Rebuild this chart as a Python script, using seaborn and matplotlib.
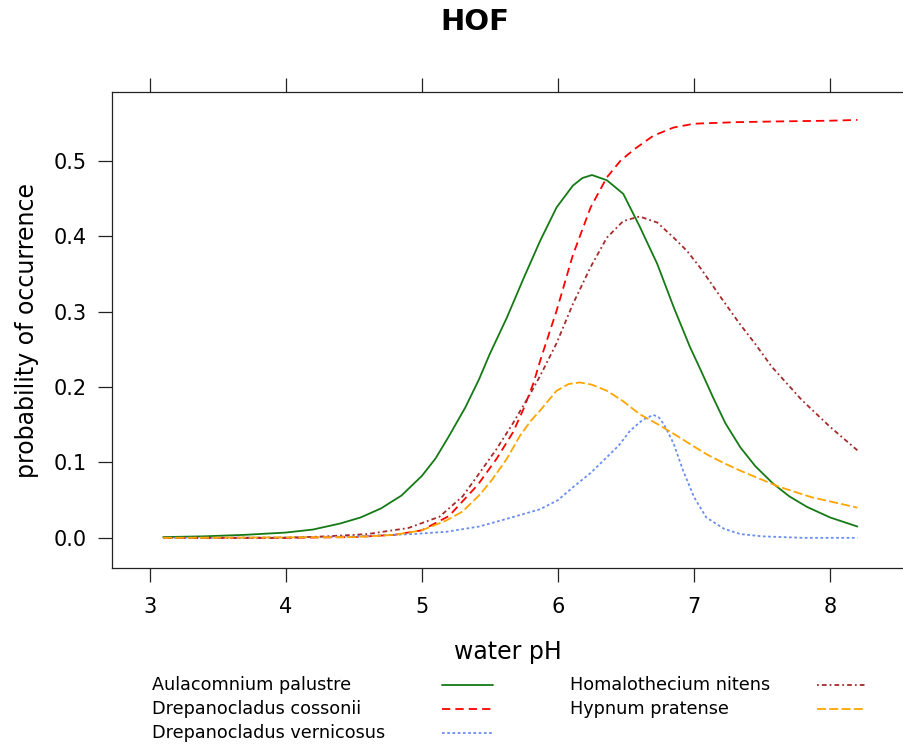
import pandas as pd
import seaborn as sns
import matplotlib.pyplot as plt
from matplotlib.lines import Line2D

# values
species = ["Aulacomnium palustre", "Drepanocladus cossonii", "Drepanocladus vernicosus",
           "Homalothecium nitens", "Hypnum pratense"]

aula_x = [3.1, 3.4, 3.7, 4.0, 4.2, 4.4, 4.55, 4.7, 4.85, 5.0, 5.1, 5.2, 5.32, 5.42, 5.5,
          5.625, 5.75, 5.87, 5.99, 6.11, 6.18, 6.25, 6.36, 6.48, 6.6, 6.73, 6.85, 6.97, 7.05,
          7.14, 7.23, 7.34, 7.45, 7.58, 7.7, 7.83, 8.0, 8.2]
aula_y = [0.001, 0.002, 0.004, 0.007, 0.011, 0.019, 0.027, 0.039, 0.056, 0.082, 0.105, 0.135,
          0.173, 0.210, 0.244, 0.292, 0.345, 0.394, 0.438, 0.467, 0.477, 0.481, 0.474, 0.456,
          0.413, 0.363, 0.306, 0.253, 0.222, 0.186, 0.152, 0.120, 0.095, 0.072, 0.055, 0.041,
          0.027, 0.015]

coss_x = [3.1, 4.0, 4.5, 4.8, 5.0, 5.2, 5.41, 5.55, 5.67, 5.75, 5.82, 5.87, 5.99, 6.11, 6.24,
          6.36, 6.46, 6.56, 6.7, 6.85, 7.0, 7.3, 7.6, 8.0, 8.2]
coss_y = [0.0, 0.0, 0.001, 0.004, 0.010, 0.029, 0.070, 0.105, 0.140, 0.172, 0.205, 0.235,
          0.301, 0.375, 0.438, 0.478, 0.500, 0.515, 0.533, 0.544, 0.549, 0.551, 0.552, 0.553,
          0.554]

vern_x = [3.1, 4.0, 4.5, 4.93, 5.18, 5.42, 5.66, 5.87, 6.0, 6.11, 6.24, 6.36, 6.45, 6.53,
          6.62, 6.7, 6.74, 6.78, 6.85, 6.92, 7.0, 7.09, 7.22, 7.34, 7.5, 7.8, 8.2]
vern_y = [0.0, 0.0005, 0.002, 0.005, 0.008, 0.015, 0.027, 0.038, 0.050, 0.067, 0.086, 0.107,
          0.123, 0.142, 0.156, 0.163, 0.160, 0.150, 0.125, 0.089, 0.054, 0.027, 0.012, 0.005,
          0.002, 0.0, 0.0]

homa_x = [3.1, 4.0, 4.3, 4.6, 4.9, 5.13, 5.3, 5.42, 5.55, 5.67, 5.8, 5.87, 5.99, 6.11, 6.24,
          6.36, 6.48, 6.6, 6.73, 6.85, 6.95, 7.05, 7.2, 7.33, 7.45, 7.57, 7.67, 7.79, 8.0, 8.2]
homa_y = [0.0, 0.0, 0.002, 0.005, 0.013, 0.028, 0.055, 0.085, 0.118, 0.152, 0.192, 0.215,
          0.258, 0.310, 0.359, 0.398, 0.420, 0.426, 0.418, 0.398, 0.380, 0.357, 0.318, 0.285,
          0.257, 0.227, 0.207, 0.183, 0.147, 0.116]

hypn_x = [3.1, 4.5, 4.8, 5.0, 5.18, 5.3, 5.43, 5.52, 5.625, 5.72, 5.8, 5.87, 5.99, 6.08,
          6.16, 6.25, 6.36, 6.48, 6.6, 6.73, 6.85, 7.0, 7.1, 7.22, 7.34, 7.5, 7.62, 7.86, 8.2]
hypn_y = [0.0, 0.001, 0.004, 0.010, 0.023, 0.035, 0.058, 0.078, 0.105, 0.135, 0.155, 0.169,
          0.195, 0.204, 0.206, 0.203, 0.195, 0.181, 0.164, 0.151, 0.138, 0.121, 0.110, 0.099,
          0.089, 0.077, 0.068, 0.054, 0.040]

x_ticks = [3, 4, 5, 6, 7, 8]
y_ticks = [0.0, 0.1, 0.2, 0.3, 0.4, 0.5]

colors = ["#157a15", "#ff0000", "#6a8ef0", "#a52a2a", "#ffa500"]
dash_styles = ["", (4.6, 2.8), (1.5, 1.4), (1.0, 1.7, 2.6, 1.7), (5.0, 1.8)]

frames = []
for name, xs, ys in zip(species, [aula_x, coss_x, vern_x, homa_x, hypn_x],
                        [aula_y, coss_y, vern_y, homa_y, hypn_y]):
    frames.append(pd.DataFrame({"pH": xs, "prob": ys, "species": name}))
df = pd.concat(frames, ignore_index=True)

sns.set_style("ticks")
plt.rcParams["font.family"] = ["DejaVu Sans"]
plt.rcParams["text.color"] = "black"
plt.rcParams["axes.labelcolor"] = "black"
plt.rcParams["xtick.labelcolor"] = "black"
plt.rcParams["ytick.labelcolor"] = "black"

fig = plt.figure(figsize=(9.04, 7.47), dpi=100)
ax = fig.add_axes([0.1239, 0.2396, 0.8938, 0.6372])

LW = 1.3
sns.lineplot(data=df, x="pH", y="prob", hue="species", style="species",
             hue_order=species, style_order=species,
             palette=dict(zip(species, colors)), dashes=dict(zip(species, dash_styles)),
             linewidth=LW, errorbar=None, legend=False, ax=ax)

ax.set_xlim(2.724, 8.66)
ax.set_ylim(-0.040, 0.591)
ax.set_xticks(x_ticks)
ax.set_xticklabels([str(v) for v in x_ticks])
ax.set_yticks(y_ticks)
ax.set_yticklabels(["{:.1f}".format(v) for v in y_ticks])
ax.tick_params(axis="x", top=True, bottom=True, labeltop=False, length=10, width=0.9,
               pad=11, labelsize=15, color="#222222", labelcolor="black")
ax.tick_params(axis="y", left=True, right=True, length=10, width=0.9,
               pad=8, labelsize=15, color="#222222", labelcolor="black")
for sp in ax.spines.values():
    sp.set_visible(True)
    sp.set_linewidth(0.9)
    sp.set_color("#222222")

ax.set_xlabel("water pH", fontsize=17, color="black")
ax.set_ylabel("probability of occurrence", fontsize=17, color="black")
ax.xaxis.set_label_coords(0.4897, -0.151)
ax.yaxis.set_label_coords(-0.0903, 0.5)

fig.text(0.525, 1 - 22 / 747, "HOF", fontsize=21, fontweight="bold", ha="center",
         va="center", color="black")

# key below the panel: text first, then the line sample
rows_y = [1 - 685 / 747, 1 - 709 / 747, 1 - 733 / 747]
key_pos = [(0.168, 0.489, 0.545, rows_y[0]), (0.168, 0.489, 0.545, rows_y[1]),
           (0.168, 0.489, 0.545, rows_y[2]), (0.6305, 0.904, 0.958, rows_y[0]),
           (0.6305, 0.904, 0.958, rows_y[1])]
for name, col, ds, (tx, x0, x1, yy) in zip(species, colors, dash_styles, key_pos):
    fig.text(tx, yy, name, fontsize=12.7, ha="left", va="center", color="black")
    ln = Line2D([x0, x1], [yy, yy], transform=fig.transFigure, color=col, linewidth=LW)
    if ds:
        ln.set_dashes(ds)
    fig.add_artist(ln)

fig.savefig("out.png", dpi=100)
